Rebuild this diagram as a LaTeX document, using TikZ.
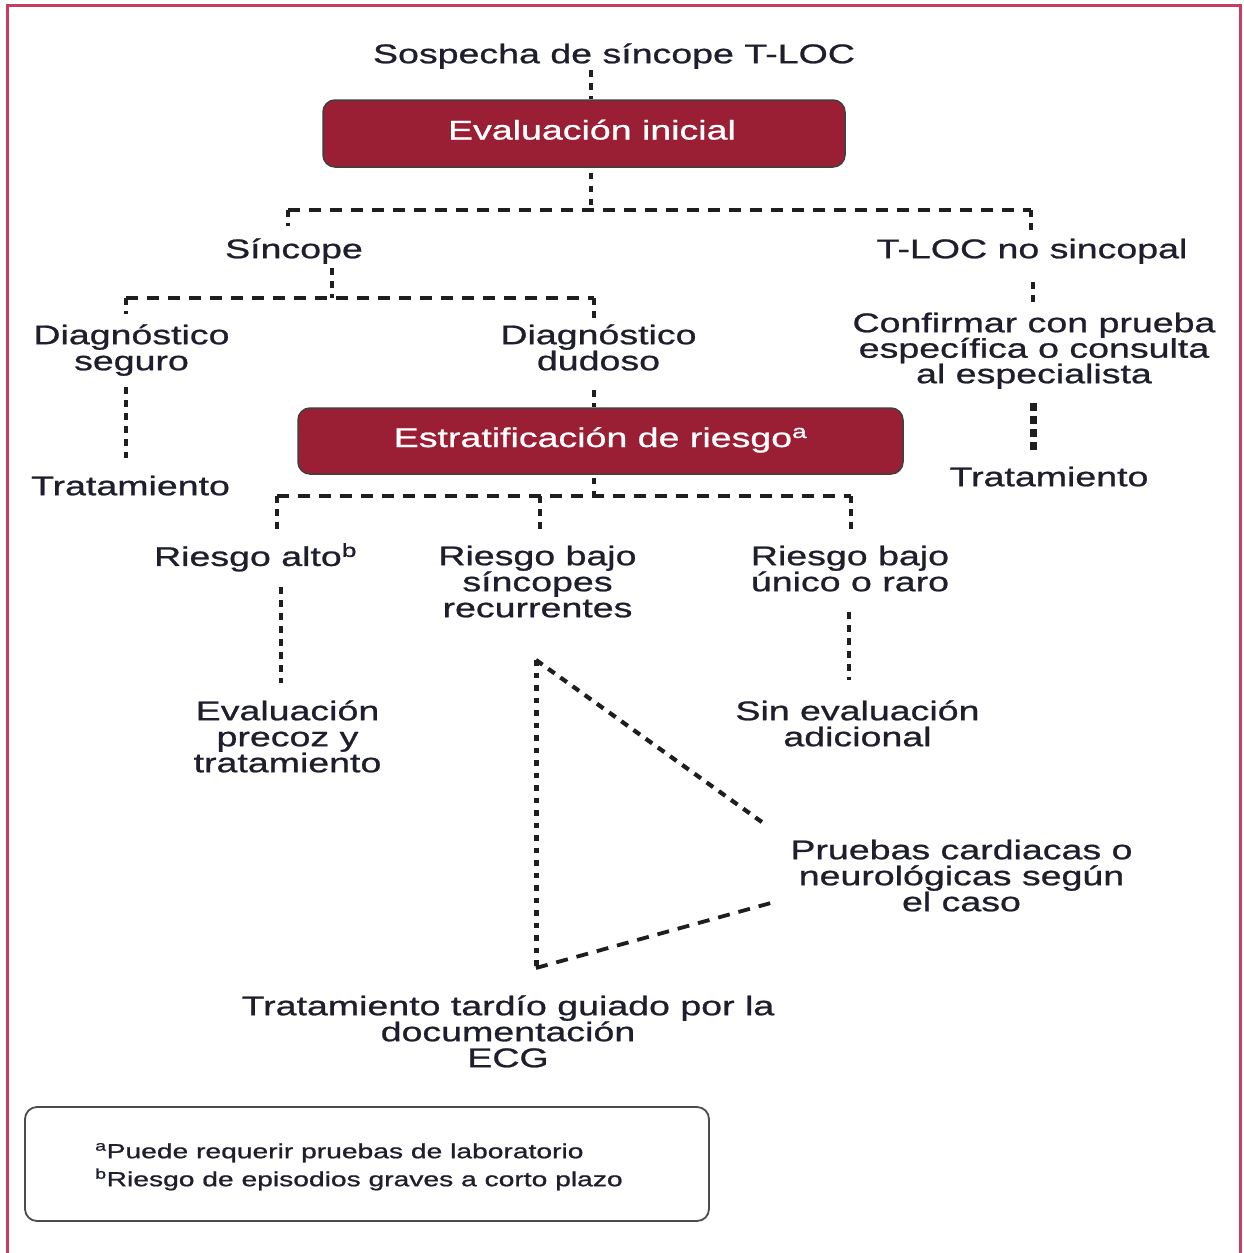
\documentclass[tikz,border=0pt]{standalone}
\usepackage{fontspec}
\setmainfont{Liberation Sans}[FakeStretch=1.39, FakeBold=0.9]
\usetikzlibrary{calc}
\definecolor{framecol}{RGB}{196,62,98}
\definecolor{boxred}{RGB}{154,31,53}
\definecolor{ink}{RGB}{30,30,45}
\definecolor{linecol}{RGB}{30,30,30}
\newcommand\mfont{\fontsize{27}{26}\selectfont\lineskiplimit=-100pt\relax}
\newcommand\cfont{\fontsize{27}{25.5}\selectfont\lineskiplimit=-100pt\relax}
\newcommand\ffont{\fontsize{20.3}{28}\selectfont\lineskiplimit=-100pt\relax}
\newcommand\bfontx{\fontsize{27}{27}\selectfont}
\newcommand\fst{\rule{0pt}{22pt}}
\newcommand\ffst{\rule{0pt}{17pt}}
\begin{document}
\begin{tikzpicture}[x=1pt,y=-1pt,
  lbl/.style={font=\mfont, text=ink, align=center, inner sep=0pt, anchor=north},
  redbox/.style={draw=black!75, line width=1.5pt, fill=boxred, rounded corners=12pt,
    text=white, font=\bfontx, inner sep=0pt,
    text height=19pt, text depth=7pt},
  notebox/.style={draw=black!70, line width=1.8pt, fill=white, rounded corners=12pt,
    inner sep=0pt},
  vdot/.style={draw=linecol, line width=4.5pt, dash pattern=on 6.5pt off 6.5pt},
  hdash/.style={draw=linecol, line width=3.5pt, dash pattern=on 12pt off 9pt},
  thickdot/.style={draw=linecol, line width=7pt, dash pattern=on 8pt off 5pt},
  tridot/.style={draw=linecol, line width=5pt, dash pattern=on 5.5pt off 7pt},
  diagA/.style={draw=linecol, line width=4.2pt, dash pattern=on 8pt off 7pt},
  diagB/.style={draw=linecol, line width=3.8pt, dash pattern=on 12pt off 9pt}
]
\useasboundingbox (0,0) rectangle (1244,1253);
\fill[white] (0,0) rectangle (1244,1253);
% frame
\draw[framecol, line width=3pt] (7,1253) -- (7,5) -- (1240,5) -- (1240,1253);

% nodes
\node[lbl] (t0) at (614,41) {\fst Sospecha de síncope T-LOC};
\node[redbox, minimum width=522pt, minimum height=67pt] (b1) at (584,133.5) {\hspace*{16pt}Evaluación inicial};
\node[lbl] (sincope) at (294,236) {\fst Síncope};
\node[lbl] (tloc) at (1032,236) {\fst T-LOC no sincopal};
\node[lbl] (dseg) at (131.5,322) {\fst Diagnóstico\\seguro};
\node[lbl] (ddud) at (598.5,322) {\fst Diagnóstico\\dudoso};
\node[lbl, font=\cfont] (confirm) at (1034,310)
  {\fst Confirmar con prueba\\específica o consulta\\al especialista};
\node[lbl] (tratL) at (130.5,473) {\fst Tratamiento};
\node[redbox, minimum width=605pt, minimum height=66pt] (b2) at (600.5,441) {Estratificación de riesgo\textsuperscript{a}};
\node[lbl] (tratR) at (1049,464) {\fst Tratamiento};
\node[lbl] (ralto) at (255.5,543) {\fst Riesgo alto\textsuperscript{b}};
\node[lbl] (rbajoA) at (537.5,543) {\fst Riesgo bajo\\síncopes\\recurrentes};
\node[lbl] (rbajoB) at (850,543) {\fst Riesgo bajo\\único o raro};
\node[lbl] (evp) at (287.5,698) {\fst Evaluación\\precoz y\\tratamiento};
\node[lbl] (sinev) at (857.5,698) {\fst Sin evaluación\\adicional};
\node[lbl] (pruebas) at (961.5,837) {\fst Pruebas cardiacas o\\neurológicas según\\el caso};
\node[lbl] (ttard) at (508,993) {\fst Tratamiento tardío guiado por la\\documentación\\ECG};
\node[notebox, minimum width=684pt, minimum height=114pt] (notes) at (367,1164) {};
\node[font=\ffont, text=ink, align=left, inner sep=0pt, anchor=north west] (notetext) at (95,1141)
  {\ffst\textsuperscript{a}Puede requerir pruebas de laboratorio\\\textsuperscript{b}Riesgo de episodios graves a corto plazo};

% coordinates
\coordinate (c0) at (591,70);
\coordinate (j1) at (591,210);
\coordinate (j1L) at (288,210);
\coordinate (j1R) at (1031,210);
\coordinate (s1) at (332,268);
\coordinate (j2) at (332,298);
\coordinate (j2L) at (126,298);
\coordinate (j2R) at (594,298);
\coordinate (d1) at (126,387);
\coordinate (d1e) at (126,458);
\coordinate (d2) at (594,390);
\coordinate (j3) at (594,496);
\coordinate (j3L) at (277,496);
\coordinate (j3M) at (540,496);
\coordinate (j3R) at (851,496);
\coordinate (r1) at (281,587);
\coordinate (r1e) at (281,683);
\coordinate (n1) at (1033,282);
\coordinate (n1e) at (1033,302);
\coordinate (n2) at (1033,403);
\coordinate (n2e) at (1033,452);
\coordinate (r3) at (849,612);
\coordinate (r3e) at (849,680);
\coordinate (apex) at (536,660);
\coordinate (tribot) at (536,968);
\coordinate (diagA) at (766,825);
\coordinate (diagB) at (778,901);

% connectors
\draw[vdot] (c0) -- (c0 |- b1.north);
\draw[vdot] ($(j1 |- b1.south)+(0,5)$) -- (j1);
\draw[hdash] (j1L) -- (j1R);
\draw[vdot] (j1L) -- ++(0,16);
\draw[vdot] (j1R) -- ++(0,20);
\draw[vdot] (s1) -- (j2);
\draw[hdash] (j2L) -- (j2R);
\draw[vdot] (j2L) -- ++(0,16);
\draw[vdot] (j2R) -- ++(0,20);
\draw[vdot] (d1) -- (d1e);
\draw[vdot] (d2) -- (d2 |- b2.north);
\draw[vdot] ($(j3 |- b2.south)+(0,3)$) -- (j3);
\draw[hdash] (j3L) -- (j3R);
\draw[vdot] (j3L) -- ++(0,36);
\draw[vdot] (j3M) -- ++(0,34);
\draw[vdot] (j3R) -- ++(0,34);
\draw[vdot] (r1) -- (r1e);
\draw[vdot] (n1) -- (n1e);
\draw[thickdot] (n2) -- (n2e);
\draw[vdot] (r3) -- (r3e);
\draw[tridot] (apex) -- (tribot);
\draw[diagA] (apex) -- (diagA);
\draw[diagB] (tribot) -- (diagB);
\end{tikzpicture}
\end{document}
